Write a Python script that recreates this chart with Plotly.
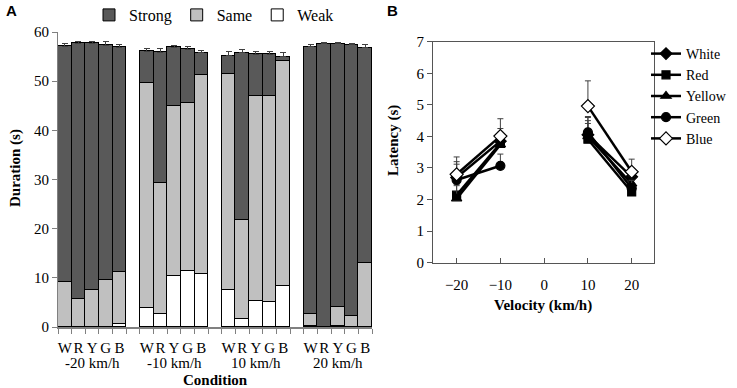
import plotly.graph_objects as go

W, H = 737, 388

# ---------------- Panel A data ----------------
conditions = ["-20 km/h", "-10 km/h", "10 km/h", "20 km/h"]
colors_short = ["W", "R", "Y", "G", "B"]
# cumulative tops per bar (order: W,R,Y,G,B within each condition)
total_top = [57.1, 57.7, 57.7, 57.3, 56.9,
             56.1, 55.9, 56.9, 56.5, 55.8,
             55.2, 55.8, 55.5, 55.5, 55.0,
             57.0, 57.6, 57.6, 57.4, 56.8]
same_top = [9.1, 5.6, 7.5, 9.5, 11.1,
            49.6, 29.3, 45.0, 45.6, 51.3,
            51.4, 21.8, 47.0, 47.0, 54.1,
            2.6, 0.0, 4.1, 2.2, 13.0]
weak_top = [0.0, 0.0, 0.0, 0.0, 0.7,
            3.9, 2.7, 10.3, 11.4, 10.8,
            7.6, 1.6, 5.3, 5.1, 8.3,
            0.15, 0.0, 0.15, 0.0, 0.0]
total_err = [0.5, 0.3, 0.3, 0.8, 0.6,
             0.5, 0.8, 0.3, 0.5, 0.5,
             0.8, 0.6, 0.6, 0.5, 0.9,
             0.4, 0.3, 0.3, 0.3, 0.6]

# ---------------- Panel B data ----------------
velocity = [-20, -10, None, 10, 20]
series_names = ["White", "Red", "Yellow", "Green", "Blue"]
latency = {
    "White":  [2.70, 3.85, None, 4.05, 2.72],
    "Red":    [2.14, 3.78, None, 3.91, 2.24],
    "Yellow": [2.03, 3.74, None, 4.00, 2.50],
    "Green":  [2.62, 3.07, None, 4.13, 2.36],
    "Blue":   [2.80, 4.01, None, 4.96, 2.88],
}
latency_err = {
    "White":  [0.50, 0.40, None, 0.55, 0.25],
    "Red":    [0.30, 0.35, None, 0.50, 0.20],
    "Yellow": [0.45, 0.35, None, 0.50, 0.25],
    "Green":  [0.50, 0.37, None, 0.50, 0.25],
    "Blue":   [0.55, 0.55, None, 0.80, 0.40],
}
markers = {
    "White": ("diamond", "black", 9),
    "Red": ("square", "black", 8),
    "Yellow": ("triangle-up", "black", 9),
    "Green": ("circle", "black", 9),
    "Blue": ("diamond", "white", 10),
}

SERIF = "Liberation Serif"
SANS = "Liberation Sans"

# bar positions: 5 bars per group, one empty slot between groups
xpos = []
for g in range(len(conditions)):
    for i in range(len(colors_short)):
        xpos.append(g * 6 + i + 0.5)

weak_seg = weak_top
same_seg = [s - w for s, w in zip(same_top, weak_top)]
strong_seg = [t - s for t, s in zip(total_top, same_top)]

fig = go.Figure()
bar_line = dict(color="black", width=1)
fig.add_trace(go.Bar(x=xpos, y=weak_seg, name="Weak", marker=dict(color="white", line=bar_line),
                     width=1, legend="legend", legendrank=3, xaxis="x", yaxis="y"))
fig.add_trace(go.Bar(x=xpos, y=same_seg, name="Same", marker=dict(color="#c0c0c0", line=bar_line),
                     width=1, legend="legend", legendrank=2, xaxis="x", yaxis="y"))
fig.add_trace(go.Bar(x=xpos, y=strong_seg, name="Strong", marker=dict(color="#595959", line=bar_line),
                     width=1, legend="legend", legendrank=1, xaxis="x", yaxis="y",
                     error_y=dict(type="data", array=total_err, arrayminus=[0] * len(total_err),
                                  symmetric=False, color="#404040", thickness=1, width=3)))

for name in series_names:
    sym, fill, size = markers[name]
    fig.add_trace(go.Scatter(
        x=velocity, y=latency[name], name=name, mode="lines+markers",
        connectgaps=False,
        line=dict(color="black", width=2.5),
        marker=dict(symbol=sym, color=fill, size=size, line=dict(color="black", width=1.2)),
        error_y=dict(type="data", array=latency_err[name],
                     arrayminus=[0 if v is not None else None for v in latency_err[name]],
                     symmetric=False, color="#404040", thickness=1, width=3),
        legend="legend2", xaxis="x2", yaxis="y2"))

def px(x):
    return x / W

def py(y):
    return (H - y) / H

tickfont = dict(family=SERIF, size=15, color="black")

fig.update_layout(
    width=W, height=H,
    margin=dict(l=0, r=0, t=0, b=0, autoexpand=False),
    paper_bgcolor="white", plot_bgcolor="white",
    barmode="stack", bargap=0,
    font=dict(family=SERIF, size=15, color="black"),
    xaxis=dict(domain=[px(58), px(372)], range=[0, 23], tickvals=xpos,
               ticktext=colors_short * len(conditions), ticks="", showgrid=False,
               zeroline=False, showline=True, linecolor="#808080", linewidth=1.5,
               mirror=False, tickfont=tickfont, ticklabelstandoff=6, tickangle=0,
               automargin=False,
               minor=dict(ticks="outside", dtick=1, tick0=0, ticklen=5, tickcolor="#808080")),
    yaxis=dict(domain=[py(327), py(32)], range=[0, 60], dtick=10, ticks="outside",
               ticklen=5, tickcolor="#808080", showgrid=False, zeroline=False,
               showline=True, linecolor="#808080", linewidth=1, tickfont=tickfont,
               automargin=False),
    xaxis2=dict(domain=[px(433), px(654)], range=[-25.4, 25.1], tickvals=[-20, -10, 0, 10, 20],
                ticks="inside", ticklen=5, tickcolor="#555555", showgrid=False, zeroline=False,
                showline=True, linecolor="#555555", linewidth=1.2, mirror=True,
                tickfont=tickfont, ticklabelstandoff=8, anchor="y2", tickangle=0,
                automargin=False),
    yaxis2=dict(domain=[py(262.7), py(41.7)], range=[0, 7], dtick=1, ticks="outside",
                ticklen=5, tickcolor="#555555", showgrid=False, zeroline=False,
                showline=True, linecolor="#555555", linewidth=1.2, mirror=True,
                tickfont=tickfont, anchor="x2", automargin=False),
    legend=dict(orientation="h", x=px(214), xanchor="center", y=py(15), yanchor="middle",
                font=dict(family=SERIF, size=16), traceorder="normal",
                itemwidth=30, bgcolor="rgba(0,0,0,0)", tracegroupgap=0),
    legend2=dict(orientation="v", x=px(646), xanchor="left", y=py(38), yanchor="top",
                 font=dict(family=SERIF, size=14), itemwidth=30,
                 bgcolor="rgba(0,0,0,0)", tracegroupgap=0),
    showlegend=True,
)

annotations = [
    dict(text="<b>A</b>", x=px(4), y=py(10), xanchor="left", yanchor="middle",
         font=dict(family=SANS, size=15)),
    dict(text="<b>B</b>", x=px(385), y=py(10), xanchor="left", yanchor="middle",
         font=dict(family=SANS, size=15)),
    dict(text="<b>Duration (s)</b>", x=px(15), y=py(168), textangle=-90,
         xanchor="center", yanchor="middle", font=dict(family=SERIF, size=15)),
    dict(text="<b>Condition</b>", x=px(215), y=py(380), xanchor="center", yanchor="middle",
         font=dict(family=SERIF, size=15)),
    dict(text="<b>Latency (s)</b>", x=px(393), y=py(141), textangle=-90,
         xanchor="center", yanchor="middle", font=dict(family=SERIF, size=15)),
    dict(text="<b>Velocity (km/h)</b>", x=px(543), y=py(305), xanchor="center", yanchor="middle",
         font=dict(family=SERIF, size=15)),
]
for g, cond in enumerate(conditions):
    annotations.append(dict(text=cond, x=g * 6 + 2.5, xref="x", y=py(363), yref="paper",
                            xanchor="center", yanchor="middle", showarrow=False,
                            font=dict(family=SERIF, size=15)))
for a in annotations:
    a.setdefault("xref", "paper")
    a.setdefault("yref", "paper")
    a["showarrow"] = False
fig.update_layout(annotations=annotations)

fig.write_html("out.html", config={"displayModeBar": False},
               post_script="document.body.style.margin='0px';document.body.style.overflow='hidden';")
